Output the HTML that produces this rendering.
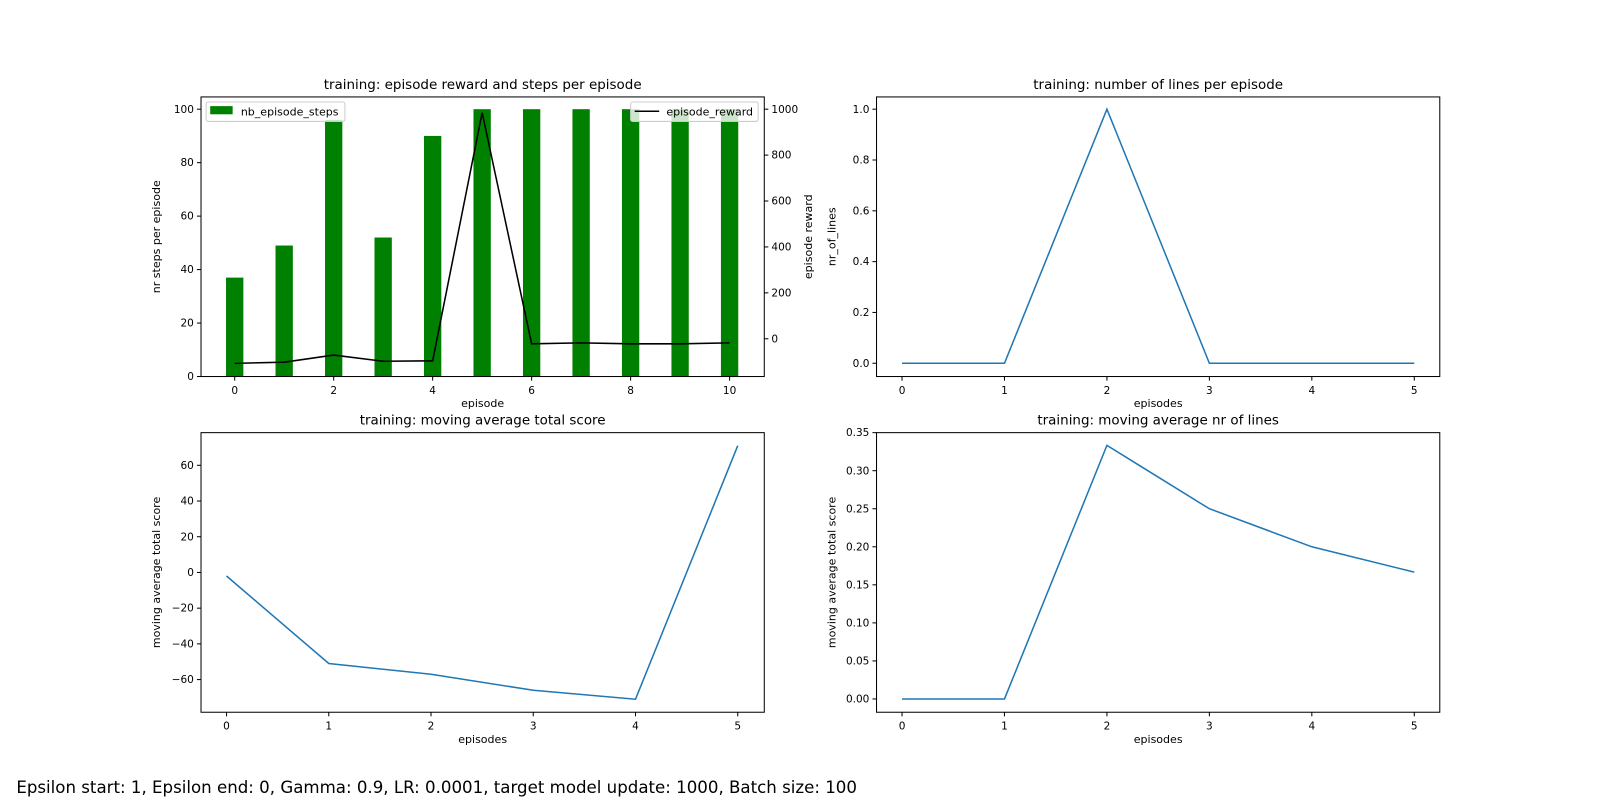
<!DOCTYPE html>
<html><head><meta charset="utf-8"><style>
body{margin:0;background:#fff;width:1600px;height:800px;overflow:hidden}
svg text{font-family:"DejaVu Sans","Liberation Sans",sans-serif;fill:#000}
</style></head><body>
<svg width="1600" height="800" viewBox="0 0 1600 800">
<g id="fig" transform="scale(1.0204)">
<text x="16" y="777" font-size="16.3">Epsilon start: 1, Epsilon end: 0, Gamma: 0.9, LR: 0.0001, target model update: 1000, Batch size: 100</text>
</g>
</svg>
<script>
const episodes1 = [0,1,2,3,4,5,6,7,8,9,10];
const steps = [37,49,96,52,90,100,100,100,100,100,100];
const rewards = [-107,-102,-71,-98,-96,985,-22,-18,-22,-22,-18];
const episodes2 = [0,1,2,3,4,5];
const nrLines = [0,0,1,0,0,0];
const maScore = [-2,-51,-57,-66,-71,71];
const maLines = [0,0,0.3333,0.25,0.2,0.1667];
const x1Ticks = [0,2,4,6,8,10];
const y1Ticks = [0,20,40,60,80,100];
const y1rTicks = [0,200,400,600,800,1000];
const x2Ticks = [0,1,2,3,4,5];
const y2Ticks = [0,0.2,0.4,0.6,0.8,1.0];
const y3Ticks = [-60,-40,-20,0,20,40,60];
const y4Ticks = [0,0.05,0.1,0.15,0.2,0.25,0.3,0.35];

const svg = document.getElementById('fig');
const NS = 'http://www.w3.org/2000/svg';
const TF = 10.3, TT = 13.2, LF = 10.8;
function el(tag, attrs, parent){const e=document.createElementNS(NS,tag);for(const k in attrs)e.setAttribute(k,attrs[k]);(parent||svg).appendChild(e);return e;}
function txt(s,attrs){const e=el('text',attrs);e.textContent=s;return e;}
function scale(d0,d1,p0,p1){return v=>p0+(v-d0)/(d1-d0)*(p1-p0);}

function axes(cfg){
  const {L,R,T,B,xs,ys,xticks,yticks,yfmt,title,xlabel,ylabel,name}=cfg;
  const g=el('g',{});
  
  
  xticks.forEach(t=>{const x=xs(t);el('line',{x1:x,x2:x,y1:B,y2:B+4,stroke:'#000','stroke-width':1});
    const e=txt(String(t),{x:x,y:B+17,'font-size':TF,'text-anchor':'middle'});
    });
  yticks.forEach(t=>{const y=ys(t);el('line',{x1:L-4,x2:L,y1:y,y2:y,stroke:'#000','stroke-width':1});
    const e=txt(yfmt(t),{x:L-7,y:y+3.5,'font-size':TF,'text-anchor':'end'});
    });
  let e=txt(title,{x:(L+R)/2,y:T-8,'font-size':TT,'text-anchor':'middle'});
  
  e=txt(xlabel,{x:(L+R)/2,y:B+30,'font-size':LF,'text-anchor':'middle'});
  
  const cy=(T+B)/2, cx=L-40;
  e=txt(ylabel,{x:cx,y:cy,'font-size':LF,'text-anchor':'middle',transform:`rotate(-90 ${cx} ${cy})`});
  
}
function frame(L,R,T,B){el('rect',{x:L,y:T,width:R-L,height:B-T,fill:'none',stroke:'#000','stroke-width':1});}
function line(xsArr,ysArr,xs,ys,color,name){
  const p=el('polyline',{points:xsArr.map((x,i)=>xs(x)+','+ys(ysArr[i])).join(' '),fill:'none',stroke:color,'stroke-width':1.5});
  
}

// Plot 1
{const L=197,R=749,T=95,B=369;
 const xs=scale(0,10,230,715), ys=scale(0,100,369,107), yr=scale(0,1000,332,107);
 axes({L,R,T,B,xs,ys,xticks:x1Ticks,yticks:y1Ticks,yfmt:String,title:'training: episode reward and steps per episode',xlabel:'episode',ylabel:'nr steps per episode',name:'steps-reward-chart'});
 const bw=xs(0.35)-xs(0);
 episodes1.forEach((ep,i)=>{const b=el('rect',{x:xs(ep)-bw/2,y:ys(steps[i]),width:bw,height:ys(0)-ys(steps[i]),fill:'#008000'});
   });
 line(episodes1,rewards,xs,yr,'#000','episode-reward-line');
 y1rTicks.forEach(t=>{const y=yr(t);el('line',{x1:R,x2:R+4,y1:y,y2:y,stroke:'#000'});
   const e=txt(String(t),{x:R+7,y:y+3.5,'font-size':TF});});
 const cx=R+47,cy=(T+B)/2;
 let e=txt('episode reward',{x:cx,y:cy,'font-size':LF,'text-anchor':'middle',transform:`rotate(-90 ${cx} ${cy})`});
 
 frame(L,R,T,B);
 let lg=el('g',{});
 el('rect',{x:202,y:100,width:136,height:19,rx:2,fill:'rgba(255,255,255,0.8)',stroke:'#ccc'},lg);
 el('rect',{x:206,y:104,width:22,height:8,fill:'#008000'},lg);
 e=el('text',{x:236,y:113,'font-size':LF},lg);e.textContent='nb_episode_steps';
 lg=el('g',{});
 el('rect',{x:618,y:100,width:125,height:19,rx:2,fill:'rgba(255,255,255,0.8)',stroke:'#ccc'},lg);
 el('line',{x1:622,x2:646,y1:109,y2:109,stroke:'#000','stroke-width':1.5},lg);
 e=el('text',{x:653,y:113,'font-size':LF},lg);e.textContent='episode_reward';
}
// Plot 2
{const L=859,R=1411,T=95,B=369;
 const xs=scale(0,5,884,1386), ys=scale(0,1,356,107);
 axes({L,R,T,B,xs,ys,xticks:x2Ticks,yticks:y2Ticks,yfmt:v=>v.toFixed(1),title:'training: number of lines per episode',xlabel:'episodes',ylabel:'nr_of_lines',name:'lines-per-episode-chart'});
 line(episodes2,nrLines,xs,ys,'#1f77b4','nr-lines-line');frame(L,R,T,B);}
// Plot 3
{const L=197,R=749,T=424,B=698;
 const xs=scale(0,5,222,723), ys=scale(0,60,561,456);
 axes({L,R,T,B,xs,ys,xticks:x2Ticks,yticks:y3Ticks,yfmt:v=>v<0?'\u2212'+(-v):String(v),title:'training: moving average total score',xlabel:'episodes',ylabel:'moving average total score',name:'moving-average-score-chart'});
 line(episodes2,maScore,xs,ys,'#1f77b4','moving-average-score-line');frame(L,R,T,B);}
// Plot 4
{const L=859,R=1411,T=424,B=698;
 const xs=scale(0,5,884,1386), ys=scale(0,0.35,685,424);
 axes({L,R,T,B,xs,ys,xticks:x2Ticks,yticks:y4Ticks,yfmt:v=>v.toFixed(2),title:'training: moving average nr of lines',xlabel:'episodes',ylabel:'moving average total score',name:'moving-average-lines-chart'});
 line(episodes2,maLines,xs,ys,'#1f77b4','moving-average-lines-line');frame(L,R,T,B);}
</script>
</body></html>
